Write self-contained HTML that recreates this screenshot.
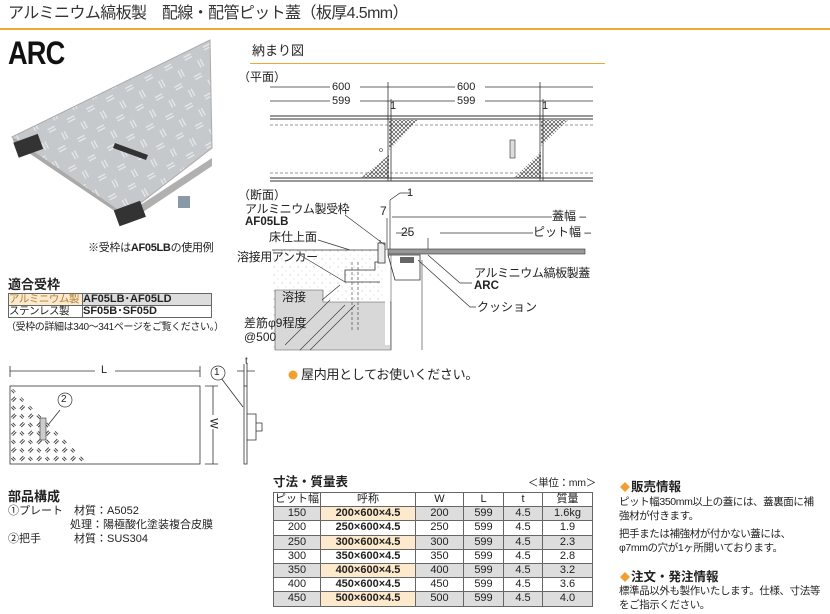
<!DOCTYPE html>
<html><head><meta charset="utf-8"><style>
*{margin:0;padding:0;box-sizing:border-box}
body{width:830px;height:614px;background:#fff;position:relative;overflow:hidden;font-family:"Liberation Sans","Noto Sans CJK JP",sans-serif;color:#222}
.a{position:absolute;white-space:nowrap;line-height:1}
.b{font-weight:bold}
.r{font-size:10.5px;letter-spacing:-0.4px}
table{border-collapse:collapse;position:absolute}
td{border:1px solid #666;font-size:11px;line-height:1;padding:0;white-space:nowrap}
#t td{text-align:center;height:14.2px}
.g td{background:#ddd}
.g td.o{background:#fde9cc}
</style></head><body>
<div class="a" style="left:8px;top:6px;font-size:16px;letter-spacing:-0.6px;color:#333">アルミニウム縞板製　配線・配管ピット蓋（板厚4.5mm）</div>
<div style="position:absolute;left:0;top:28px;width:830px;height:2px;background:#f0a830"></div>
<div class="a b" style="left:8px;top:37px;font-size:32px;letter-spacing:-1px;transform:scaleX(0.85);transform-origin:left;color:#111">ARC</div>
<div class="a" style="left:252px;top:44px;font-size:13px">納まり図</div>
<div style="position:absolute;left:250px;top:63px;width:355px;height:1px;background:#f0a830"></div>

<svg width="830" height="614" style="position:absolute;left:0;top:0">
<defs>
<pattern id="h" width="4" height="4" patternUnits="userSpaceOnUse"><path d="M0 0L4 4M4 0L0 4" stroke="#333" stroke-width=".6"/></pattern>
<pattern id="c" width="22" height="22" patternUnits="userSpaceOnUse" patternTransform="rotate(-28)"><rect width="22" height="22" fill="#c6c9cc"/><path d="M3 5h8M3 8h8M14 14v8M17 14v8" stroke="#e8eaec" stroke-width="1.2"/></pattern>
<pattern id="c2" width="12" height="12" patternUnits="userSpaceOnUse" patternTransform="rotate(-45)"><rect width="12" height="12" fill="#fff"/><path d="M1 3h5M1 5h5M8 8v4M10 8v4" stroke="#444" stroke-width="1"/></pattern>
<pattern id="d" width="8" height="8" patternUnits="userSpaceOnUse"><circle cx="2" cy="3" r=".5" fill="#999"/><circle cx="6" cy="7" r=".4" fill="#aaa"/></pattern>
</defs>
<polygon points="12,137 210,40 212,148 125,215" fill="url(#c)" stroke="#aaa"/>
<polygon points="12,137 125,215 128,220 14,143" fill="#aaa"/>
<polygon points="125,215 212,158 212,166 128,222" fill="#b0b0b0"/>
<rect x="16" y="138" width="26" height="16" fill="#333" transform="rotate(-20 28 148)"/>
<rect x="116" y="205" width="28" height="17" fill="#333" transform="rotate(-20 130 214)"/>
<rect x="178" y="196" width="12" height="12" fill="#8a99a8"/>
<polygon points="115,143 148,155 146,160 113,148" fill="#333"/>
<g stroke="#333" fill="none" stroke-width=".8">
<path d="M270 87H593M270 101H593"/>
<path d="M270 116H593M270 119H593M270 178H593M270 181H593" stroke-width="1"/>
<path d="M270 125H593M270 173H593" stroke-dasharray="3,2" stroke-width=".6"/>
<path d="M388 82V116M391 99V181M540 82V116M543 99V181"/>
<path d="M388 116V181M540 116V181"/>
</g>
<rect x="330" y="82" width="30" height="10" fill="#fff"/><rect x="330" y="96" width="30" height="10" fill="#fff"/>
<rect x="455" y="82" width="30" height="10" fill="#fff"/><rect x="455" y="96" width="30" height="10" fill="#fff"/>
<polygon points="389,120 418,120 389,150" fill="url(#h)"/>
<polygon points="389,155 389,178 361,178" fill="url(#h)"/>
<polygon points="541,120 568,120 541,146" fill="url(#h)"/>
<polygon points="541,152 541,178 514,178" fill="url(#h)"/>
<rect x="510" y="140" width="5" height="18" fill="#ddd" stroke="#333" stroke-width=".6"/>
<circle cx="381" cy="150" r="1.5" fill="none" stroke="#333" stroke-width=".6"/>
<rect x="272" y="250" width="115" height="100" fill="url(#d)"/>
<path d="M272 250H388" stroke="#333" stroke-width=".8"/>
<polygon points="275,290 323,290 323,302 391,302 391,350 275,350" fill="#d8d8d8" stroke="#555" stroke-width=".6"/>
<path d="M285 345L330 300M300 350L345 305M310 350L355 305" stroke="#333" stroke-width=".6"/>
<rect x="385" y="250" width="5" height="95" fill="#fff"/>
<path d="M422 260V350" stroke="#555" stroke-width=".7"/>
<path d="M391 255V350" stroke="#555" stroke-width=".6"/>
<rect x="388" y="249" width="197" height="5" fill="#999" stroke="#333" stroke-width=".6"/>
<path d="M380 240V262H375V270H345V282H380" fill="none" stroke="#333" stroke-width=".8"/>
<rect x="378" y="243" width="7" height="20" fill="#eee" stroke="#333" stroke-width=".8"/>
<path d="M388 255H420V280H395Z" fill="none" stroke="#333" stroke-width=".8"/>
<rect x="400" y="257" width="14" height="6" fill="#666"/>
<path d="M352 262V330M358 262V330" stroke="#333" stroke-dasharray="3,2" stroke-width=".6"/>
<g stroke="#333" stroke-width=".7" fill="none">
<path d="M387 218V249M390 200V249M428 238V249"/>
<path d="M392 217H570M396 233H410M440 233H560"/>
<path d="M390 200L400 193H410"/>
<path d="M345 215L385 245M318 240L350 250M300 255L345 282M322 300L340 285"/>
<path d="M428 255L460 283H472M418 260L470 307H476"/>
</g>
<g stroke="#333" fill="none" stroke-width=".8">
<path d="M10 371H200M10 366V377M200 366V377"/>
<rect x="10" y="386" width="190" height="78"/>
<path d="M213 386V464M205 386H218M205 464H218"/>
<rect x="244" y="386" width="3" height="78"/>
<path d="M237 371H244M247 371H255M244 364V386M247 364V386"/>
<path d="M221 378L243 407M60 410L48 425"/>
<path d="M247 414H256V440H247M256 423H262V431H256"/>
</g>
<polygon points="11,387 11,463 88,463" fill="url(#c2)"/>
<rect x="40" y="418" width="6" height="22" fill="#ccc" stroke="#333" stroke-width=".6"/>
<rect x="95" y="366" width="20" height="10" fill="#fff"/>
<rect x="208" y="415" width="10" height="14" fill="#fff"/>
<circle cx="218" cy="373" r="7" fill="#fff" stroke="#333" stroke-width=".7"/>
<circle cx="65" cy="400" r="7" fill="#fff" stroke="#333" stroke-width=".7"/>
<circle cx="293" cy="375" r="4.5" fill="#f0a030"/>
<path d="M620 487l5-5 5 5-5 5z M620 577l5-5 5 5-5 5z" fill="#f0a030"/>
</svg>

<div class="a" style="left:88px;top:243px;font-size:11px;letter-spacing:-0.3px">※受枠は<b>AF05LB</b>の使用例</div>
<div class="a b" style="left:8px;top:278px;font-size:13px">適合受枠</div>
<table style="left:8px;top:293px;width:204px">
<tr><td style="width:74px;background:#fde9cc;color:#b08040;font-size:10.5px;letter-spacing:-0.5px">アルミニウム製</td><td class="b" style="background:#ddd">AF05LB･AF05LD</td></tr>
<tr><td style="font-size:10.5px;letter-spacing:-0.5px">ステンレス製</td><td class="b">SF05B･SF05D</td></tr>
</table>
<div class="a" style="left:6px;top:323px;font-size:10px;letter-spacing:-0.4px">（受枠の詳細は340～341ページをご覧ください。）</div>

<div class="a" style="left:238px;top:71px;font-size:12px">（平面）</div>
<div class="a" style="left:332px;top:82px;font-size:11px">600</div>
<div class="a" style="left:332px;top:96px;font-size:11px">599</div>
<div class="a" style="left:457px;top:82px;font-size:11px">600</div>
<div class="a" style="left:457px;top:96px;font-size:11px">599</div>
<div class="a" style="left:390px;top:101px;font-size:11px">1</div>
<div class="a" style="left:542px;top:101px;font-size:11px">1</div>

<div class="a" style="left:238px;top:189px;font-size:12px">（断面）</div>
<div class="a" style="left:245px;top:203px;font-size:12px;letter-spacing:-0.4px">アルミニウム製受枠</div>
<div class="a b" style="left:245px;top:217px;font-size:11.5px">AF05LB</div>
<div class="a" style="left:269px;top:231px;font-size:12px">床仕上面</div>
<div class="a" style="left:237px;top:251px;font-size:12px;letter-spacing:-0.4px">溶接用アンカー</div>
<div class="a" style="left:282px;top:291px;font-size:12px">溶接</div>
<div class="a" style="left:244px;top:317px;font-size:12px">差筋φ9程度</div>
<div class="a" style="left:244px;top:331px;font-size:12px">@500</div>
<div class="a" style="left:407px;top:188px;font-size:11px">1</div>
<div class="a" style="left:380px;top:205px;font-size:12px">7</div>
<div class="a" style="left:401px;top:226px;font-size:12px">25</div>
<div class="a" style="left:552px;top:210px;font-size:12px;background:#fff">蓋幅 –</div>
<div class="a" style="left:533px;top:226px;font-size:12px;background:#fff">ピット幅 –</div>
<div class="a" style="left:474px;top:267px;font-size:12px;letter-spacing:-0.4px">アルミニウム縞板製蓋</div>
<div class="a b" style="left:474px;top:281px;font-size:11.5px">ARC</div>
<div class="a" style="left:477px;top:301px;font-size:12px">クッション</div>

<div class="a" style="left:301px;top:368px;font-size:13px;letter-spacing:-0.3px">屋内用としてお使いください。</div>
<div class="a" style="left:101px;top:365px;font-size:11px">L</div>
<div class="a" style="left:214px;top:368px;font-size:10px">1</div>
<div class="a" style="left:61px;top:395px;font-size:10px">2</div>
<div class="a" style="left:245px;top:357px;font-size:10px">t</div>
<div class="a" style="left:208px;top:418px;font-size:11px;transform:rotate(90deg)">W</div>

<div class="a b" style="left:8px;top:490px;font-size:13px">部品構成</div>
<div class="a" style="left:8px;top:506px;font-size:11px">①プレート　材質：A5052</div>
<div class="a" style="left:70px;top:520px;font-size:11px">処理：陽極酸化塗装複合皮膜</div>
<div class="a" style="left:8px;top:534px;font-size:11px">②把手　　　材質：SUS304</div>

<div class="a b" style="left:273px;top:476px;font-size:12.5px">寸法・質量表</div>
<div class="a" style="left:528px;top:478px;font-size:10.5px;letter-spacing:-0.3px">＜単位：mm＞</div>
<table id="t" style="left:273px;top:492px;width:320px">
<tr><td style="width:47px">ピット幅</td><td style="width:95px">呼称</td><td style="width:48px">W</td><td style="width:40px">L</td><td style="width:39px">t</td><td>質量</td></tr>
<tr class="g"><td>150</td><td class="o b">200×600×4.5</td><td>200</td><td>599</td><td>4.5</td><td>1.6kg</td></tr>
<tr><td>200</td><td class="b">250×600×4.5</td><td>250</td><td>599</td><td>4.5</td><td>1.9</td></tr>
<tr class="g"><td>250</td><td class="o b">300×600×4.5</td><td>300</td><td>599</td><td>4.5</td><td>2.3</td></tr>
<tr><td>300</td><td class="b">350×600×4.5</td><td>350</td><td>599</td><td>4.5</td><td>2.8</td></tr>
<tr class="g"><td>350</td><td class="o b">400×600×4.5</td><td>400</td><td>599</td><td>4.5</td><td>3.2</td></tr>
<tr><td>400</td><td class="b">450×600×4.5</td><td>450</td><td>599</td><td>4.5</td><td>3.6</td></tr>
<tr class="g"><td>450</td><td class="o b">500×600×4.5</td><td>500</td><td>599</td><td>4.5</td><td>4.0</td></tr>
</table>

<div class="a b" style="left:631px;top:481px;font-size:12.5px">販売情報</div>
<div class="a r" style="left:619px;top:497px">ピット幅350mm以上の蓋には、蓋裏面に補</div>
<div class="a r" style="left:619px;top:511px">強材が付きます。</div>
<div class="a r" style="left:619px;top:529px">把手または補強材が付かない蓋には、</div>
<div class="a r" style="left:619px;top:543px">φ7mmの穴が1ヶ所開いております。</div>
<div class="a b" style="left:631px;top:571px;font-size:12.5px">注文・発注情報</div>
<div class="a r" style="left:619px;top:586px">標準品以外も製作いたします。仕様、寸法等</div>
<div class="a r" style="left:619px;top:600px">をご指示ください。</div>
</body></html>
